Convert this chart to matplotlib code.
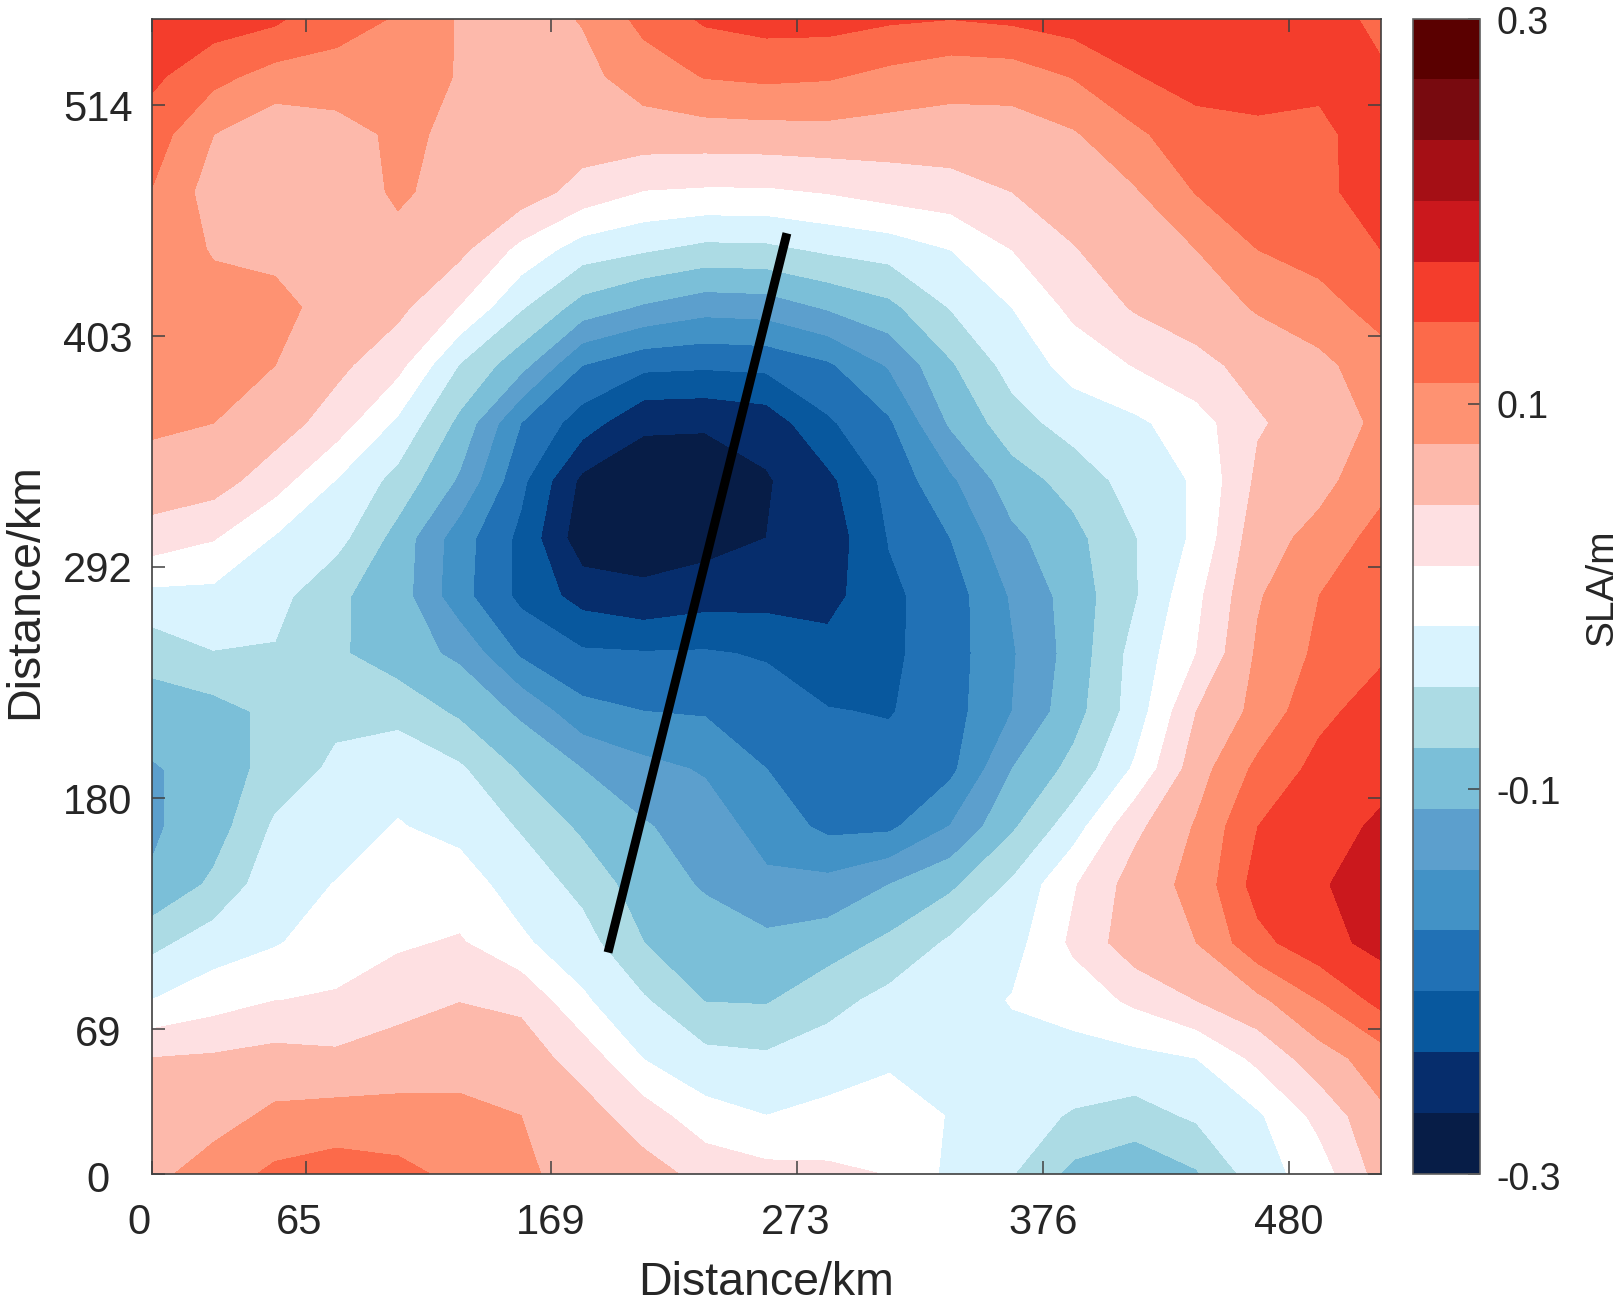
import matplotlib
matplotlib.use("Agg")
import matplotlib.pyplot as plt
from matplotlib.colors import ListedColormap, BoundaryNorm
from matplotlib.transforms import ScaledTranslation
import numpy as np

plt.rcParams['font.family'] = ['Liberation Sans', 'DejaVu Sans']

# Field: one list per column (west to east), south to north,
# in units of colour bands counted from the bottom of the colour bar.
col_00 = [11.72,11.45,11,9,7.7,6.1,5.87,5.9,6.48,7.36,8.7,10.55,11.62,12.15,12.3,12.5,12.75,12.95,13.5,14.2,14.95]
col_01 = [12.45,11.6,11.12,9.55,8.49,7.2,6.5,6.4,6.6,7.95,8.7,10.05,11.45,12.0,12.55,12.4,11.9,11.55,12.0,13.3,14.5]
col_02 = [13.2,12.2,11.34,9.98,8.9,8.65,8.15,7.4,7.25,7.9,8.35,8.9,10.43,11.5,12.0,12.45,11.6,11.4,11.3,12.6,14.2]
col_03 = [13.5,12.35,11.2,10.1,9.55,9.03,8.65,8.2,7.75,7.15,7.15,8.35,8.95,10.5,11.25,11.4,11.2,11.4,11.35,12.9,13.1]
col_04 = [13.3,12.3,11.5,10.6,9.85,9.4,9.05,8.7,7.65,6.45,6.5,6.6,7.65,8.8,10.3,11.25,11.68,12.15,12.3,12.4,12.98]
col_05 = [12.7,12.25,11.6,10.97,10.1,9.4,8.75,8.15,6.8,5.8,4.35,4.45,5.85,6.75,7.95,9.95,11.25,11.6,11.7,11.95,11.9]
col_06 = [12.14,12.0,11.45,10.8,9.15,8.6,7.9,6.87,5.8,3.85,2.75,2.75,3.25,4.0,6.35,8.1,9.7,11.55,11.6,11.6,11.6]
col_07 = [11.7,11.4,10.6,9.15,8.4,7.7,6.8,6.0,4.3,3.15,1.6,0.4,0.75,2.5,4.0,6.57,8.5,10.6,11.55,11.72,12.05]
col_08 = [11.37,10.5,8.95,8.1,7.0,6.45,6.1,5.3,4.0,3.07,1.2,0.55,0.45,1.15,3.25,5.85,8.1,9.95,11.55,12.45,13.3]
col_09 = [10.7,9.35,8.3,6.95,6.45,5.9,5.5,4.9,3.9,3.1,1.55,0.6,0.5,1.1,3.15,5.35,7.7,9.85,11.55,13.05,14.15]
col_10 = [10.3,9.0,8.15,6.9,6.25,5.2,4.6,4.0,3.5,2.9,1.6,1.0,0.9,1.4,3.25,5.45,7.75,9.85,11.6,13.2,14.4]
col_11 = [10.2,9.25,8.5,7.65,6.5,5.3,3.75,3.45,3.05,2.35,1.65,1.4,1.75,2.85,3.84,6.1,8.15,10.05,11.65,13.1,14.4]
col_12 = [9.95,9.4,8.85,8.3,7.2,6.0,3.8,3.4,2.93,2.8,2.8,3.05,3.3,3.85,5.1,6.73,8.42,10.4,11.55,12.72,14.15]
col_13 = [8.75,8.95,8.75,8.55,8.15,6.8,5.05,3.75,3.6,3.55,3.5,4.0,4.8,6.15,6.87,8.05,9.0,10.6,11.55,12.39,14.02]
col_14 = [8.05,8.4,8.7,9.05,8.6,8.15,6.85,6.0,5.0,4.9,5.1,5.75,6.55,7.55,8.4,9.0,10.0,11.0,11.55,12.45,14.2]
col_15 = [6.7,7.9,8.63,9.4,10.2,9.9,8.55,7.3,6.6,6.4,6.45,6.7,7.35,8.45,9.35,10.25,10.95,11.44,11.9,13.05,14.5]
col_16 = [6.2,7.6,8.7,10.2,11.6,11.45,10.75,9.15,8.45,8.35,7.9,7.95,8.45,8.8,10.05,11.1,11.5,11.9,12.8,13.95,14.6]
col_17 = [6.9,8.15,9.0,11.0,12.0,12.3,12.1,11.55,11.0,10.0,9.75,9.2,9.1,9.55,10.75,11.45,12.0,13.05,13.65,14.35,14.7]
col_18 = [8.55,8.85,10.25,11.75,13.7,14.4,14.0,13.25,12.3,12.15,11.9,11.6,11.2,10.9,11.3,12.1,13.0,13.4,13.8,14.4,14.7]
col_19 = [9.5,10.3,11.55,13.0,14.65,14.85,14.75,14.3,13.75,13.2,13.0,12.3,11.7,11.45,11.7,12.7,13.3,13.8,13.8,14.2,14.5]
col_20 = [11.4,11.8,12.5,14.3,15.3,15.7,15.1,14.8,14.45,13.85,13.65,13.4,12.64,12.2,12.65,13.3,14.0,14.4,14.45,14.15,13.7]

band_colors = ['#071d47','#062d6c','#08589e','#2171b5','#4292c6','#5c9fcd','#7bbfd8','#acdbe4','#d9f3fe',
               '#ffffff','#fee0e2','#fdb9ab','#fe9272','#fc6a4a','#f43d2c','#cb181d','#a50f15','#780a0f','#5a0000']
sla_levels = [-0.3 + k * 0.6 / 19 for k in range(20)]

x_km = [25.9 * i for i in range(21)]
y_km = [27.8 * j for j in range(21)]

xtick_pos = [0, 64.75, 168.35, 271.95, 375.55, 479.15]
xtick_labels = ['0', '65', '169', '273', '376', '480']
ytick_pos = [0, 69.5, 180.7, 291.9, 403.1, 514.3]
ytick_labels = ['0', '69', '180', '292', '403', '514']
cbar_ticks = [-0.3, -0.1, 0.1, 0.3]
cbar_labels = ['-0.3', '-0.1', '0.1', '0.3']

section_x_km = [192.2, 267.6]
section_y_km = [106.4, 452.6]

W, H = 1620, 1302
fig = plt.figure(figsize=(W / 100, H / 100), dpi=100)
ax = fig.add_axes([152 / W, 1 - 1173.5 / H, 1229 / W, 1155 / H])

columns = [col_00, col_01, col_02, col_03, col_04, col_05, col_06, col_07, col_08, col_09, col_10,
           col_11, col_12, col_13, col_14, col_15, col_16, col_17, col_18, col_19, col_20]
Z = -0.3 + np.array(columns).T * 0.6 / 19

cmap = ListedColormap(band_colors)
norm = BoundaryNorm(sla_levels, 19)
cs = ax.contourf(x_km, y_km, Z, levels=sla_levels, cmap=cmap, norm=norm)
cs.set_edgecolor('face')
cs.set_linewidth(0.4)

ax.plot(section_x_km, section_y_km, color='black', lw=6.4, solid_capstyle='butt')

ax.set_xlim(0, x_km[-1])
ax.set_ylim(0, y_km[-1])
EDGE = '#404040'
TXT = '#262626'
ax.set_xticks(xtick_pos, xtick_labels)
ax.set_yticks(ytick_pos, ytick_labels)
ax.tick_params(axis='both', direction='in', length=9.4, width=1.1, color=EDGE, top=True, right=True,
               labelsize=30, labelcolor=TXT)
ax.tick_params(axis='x', pad=21.5)
ax.tick_params(axis='y', pad=39)
for s in ax.spines.values():
    s.set_linewidth(1.2)
    s.set_color(EDGE)

xshift = [-13, -6, -1, -2, 0, 0]
for lab, dx in zip(ax.get_xticklabels(), xshift):
    lab.set_transform(lab.get_transform() + ScaledTranslation(dx / 100, 0, fig.dpi_scale_trans))
yshift = [-7, -6, -5, -4, -5, -5]
for lab, dy in zip(ax.get_yticklabels(), yshift):
    lab.set_transform(lab.get_transform() + ScaledTranslation(0, dy / 100, fig.dpi_scale_trans))
    lab.set_horizontalalignment('center')
    lab.set_verticalalignment('center')

ax.set_xlabel('Distance/km', fontsize=33.5, color=TXT)
ax.xaxis.label.set_verticalalignment('center')
ax.xaxis.set_label_coords(0.4996, -0.0949)
ax.set_ylabel('Distance/km', fontsize=33.5, color=TXT)
ax.yaxis.label.set_verticalalignment('center')
ax.yaxis.set_label_coords(-0.1033, 0.5045)

cax = fig.add_axes([1413 / W, 1 - 1173.5 / H, 67 / W, 1155 / H])
cb = fig.colorbar(cs, cax=cax, ticks=cbar_ticks)
cb.minorticks_off()
cb.ax.set_yticklabels(cbar_labels)
cb.ax.tick_params(direction='in', length=8.7, width=1.1, color=EDGE, labelsize=27, labelcolor=TXT, pad=12)
cb.outline.set_edgecolor('#606060')
cb.outline.set_linewidth(1.2)
for lab, dy in zip(cb.ax.get_yticklabels(), [-3, -2, 0, -2]):
    lab.set_transform(lab.get_transform() + ScaledTranslation(0, dy / 100, fig.dpi_scale_trans))
cb.set_label('SLA/m', fontsize=28, color=TXT, rotation=90)
cb.ax.yaxis.label.set_verticalalignment('center')
cb.ax.yaxis.label.set_horizontalalignment('center')
cb.ax.yaxis.set_label_coords(2.82, 0.507)

fig.savefig('out.png', dpi=100, facecolor='white')
